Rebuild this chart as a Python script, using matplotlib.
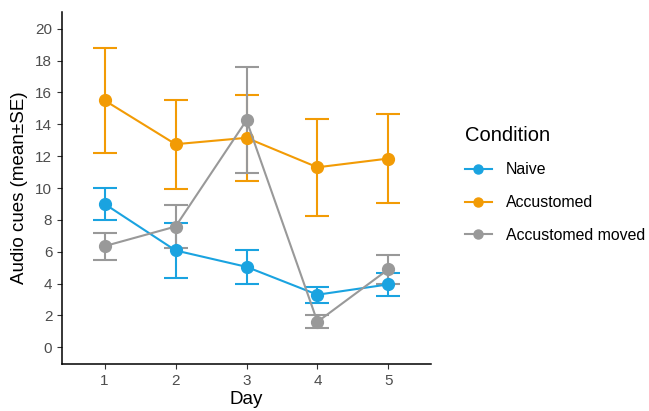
import matplotlib
matplotlib.use('Agg')
import matplotlib.pyplot as plt
from matplotlib.lines import Line2D

plt.rcParams['font.family'] = ['Liberation Sans', 'DejaVu Sans']

days = [1, 2, 3, 4, 5]
conditions = ['Naive', 'Accustomed', 'Accustomed moved']
colors = ['#1AA3E0', '#F29B05', '#999999']

naive_mean = [9.0, 6.08, 5.05, 3.3, 3.95]
naive_se = [1.0, 1.75, 1.05, 0.5, 0.7]
acc_mean = [15.5, 12.75, 13.15, 11.3, 11.85]
acc_se = [3.3, 2.8, 2.72, 3.05, 2.78]
moved_mean = [6.35, 7.58, 14.25, 1.6, 4.9]
moved_se = [0.85, 1.35, 3.32, 0.4, 0.9]

means = [naive_mean, acc_mean, moved_mean]
ses = [naive_se, acc_se, moved_se]

fig = plt.figure(figsize=(6.49, 4.11), dpi=100)
ax = fig.add_axes([62 / 649, 47 / 411, 369 / 649, 352 / 411])

handles = []
for name, m, s, c in zip(conditions, means, ses, colors):
    ax.errorbar(days, m, yerr=s, color=c, marker='o', markersize=8.5,
                linewidth=1.5, elinewidth=1.5, capsize=8.5, capthick=1.5)
    handles.append(Line2D([], [], color=c, marker='o', markersize=6.5,
                          linewidth=1.5, label=name))

ax.set_xlim(0.4, 5.6)
ax.set_ylim(-1.05, 21.05)
ax.set_xticks(days)
ax.set_yticks(range(0, 21, 2))
ax.tick_params(colors='#333333', labelcolor='#4D4D4D', labelsize=11, length=3.5)
for side in ['top', 'right']:
    ax.spines[side].set_visible(False)
for side in ['left', 'bottom']:
    ax.spines[side].set_linewidth(1.1)
    ax.spines[side].set_color('black')

ax.set_xlabel('Day', fontsize=13.5, labelpad=2)
ax.set_ylabel('Audio cues (mean±SE)', fontsize=13.5, labelpad=5)

leg = ax.legend(handles=handles, title='Condition', loc='upper left',
                bbox_to_anchor=(1.075, 0.695), frameon=False, fontsize=11.4,
                title_fontsize=14.5, handlelength=1.7, handletextpad=0.9,
                labelspacing=1.12, borderaxespad=0)
leg._legend_box.align = 'left'

fig.savefig('out.png', dpi=100)
